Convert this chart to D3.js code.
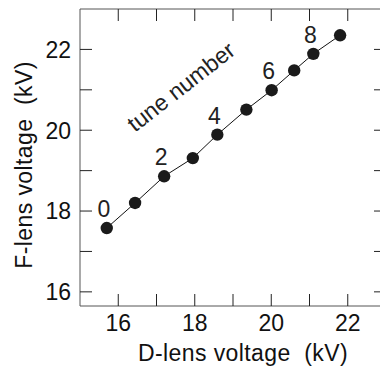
<!DOCTYPE html>
<html><head><meta charset="utf-8">
<script src="https://cdn.jsdelivr.net/npm/d3@7"></script>
<style>
html,body{margin:0;padding:0;background:#fff;}
svg{display:block;font-family:"Liberation Sans",Arial,Helvetica,sans-serif;}
</style></head>
<body>
<svg id="chart" width="380" height="366"></svg>
<script>
const dLens = [15.70, 16.44, 17.20, 17.95, 18.59, 19.35, 20.01, 20.60, 21.10, 21.80];
const fLens = [17.58, 18.20, 18.86, 19.31, 19.89, 20.51, 20.99, 21.48, 21.89, 22.35];
const tuneNumbers = [0, 1, 2, 3, 4, 5, 6, 7, 8, 9];
const labeledTunes = [0, 2, 4, 6, 8];
const xTicks = [16, 17, 18, 19, 20, 21, 22];
const yTicks = [16, 17, 18, 19, 20, 21, 22];
const xTickLabels = [16, 18, 20, 22];
const yTickLabels = [16, 18, 20, 22];
const xTitle = "D-lens voltage\u00a0\u00a0(kV)";
const yTitle = "F-lens voltage\u00a0\u00a0(kV)";
const note = "tune number";

const svg = d3.select("#chart");
const x = d3.scaleLinear().domain([15, 23]).range([80, 386]);
const y = d3.scaleLinear().domain([15.65, 23]).range([306, 9]);
const tickLen = 12;
const frame = "#555";

// frame lines
const g = svg.append("g");
g.append("line").attr("x1", x(15)).attr("x2", 380).attr("y1", y(15.65)).attr("y2", y(15.65)).attr("stroke", frame);
g.append("line").attr("x1", x(15)).attr("x2", 380).attr("y1", y(23)).attr("y2", y(23)).attr("stroke", frame);
g.append("line").attr("x1", x(15)).attr("x2", x(15)).attr("y1", y(23)).attr("y2", y(15.65)).attr("stroke", frame);

// ticks
const tk = "#222";
xTicks.forEach(v => {
  g.append("line").attr("x1", x(v)).attr("x2", x(v)).attr("y1", y(15.65)).attr("y2", y(15.65) - tickLen).attr("stroke", tk);
  g.append("line").attr("x1", x(v)).attr("x2", x(v)).attr("y1", y(23)).attr("y2", y(23) + tickLen).attr("stroke", tk);
});
yTicks.forEach(v => {
  g.append("line").attr("x1", x(15)).attr("x2", x(15) + tickLen).attr("y1", y(v)).attr("y2", y(v)).attr("stroke", tk);
  g.append("line").attr("x1", x(23)).attr("x2", x(23) - tickLen).attr("y1", y(v)).attr("y2", y(v)).attr("stroke", tk);
});

// tick labels
g.selectAll(".xl").data(xTickLabels).enter().append("text")
  .attr("x", d => x(d)).attr("y", 331).attr("text-anchor", "middle")
  .attr("font-size", 23).attr("fill", "#111").text(d => d);
g.selectAll(".yl").data(yTickLabels).enter().append("text")
  .attr("x", 71).attr("y", d => y(d)).attr("dy", "0.36em").attr("text-anchor", "end")
  .attr("font-size", 23).attr("fill", "#111").text(d => d);

// titles
svg.append("text").attr("x", 243).attr("y", 361).attr("text-anchor", "middle")
  .attr("font-size", 23).attr("letter-spacing", 0.4).attr("fill", "#111").text(xTitle);
svg.append("text").attr("transform", "translate(32,165) rotate(-90)").attr("text-anchor", "middle")
  .attr("font-size", 23).attr("letter-spacing", 0.4).attr("fill", "#111").text(yTitle);

// data line
const pts = dLens.map((d, i) => ({x: d, y: fLens[i], t: tuneNumbers[i]}));
svg.append("path").datum(pts)
  .attr("d", d3.line().x(d => x(d.x)).y(d => y(d.y)))
  .attr("fill", "none").attr("stroke", "#111").attr("stroke-width", 1);
svg.selectAll(".pt").data(pts).enter().append("circle")
  .attr("cx", d => x(d.x)).attr("cy", d => y(d.y)).attr("r", 6.2).attr("fill", "#1a1a1a");

// tune labels
svg.selectAll(".tl").data(pts.filter(p => labeledTunes.includes(p.t))).enter().append("text")
  .attr("x", d => x(d.x) - 3).attr("y", d => y(d.y) - 11).attr("text-anchor", "middle")
  .attr("font-size", 23).attr("fill", "#222").text(d => d.t);

svg.append("text").attr("transform", "translate(186,93) rotate(-38)").attr("text-anchor", "middle")
  .attr("font-size", 23).attr("fill", "#222").text(note);
</script>
</body></html>
